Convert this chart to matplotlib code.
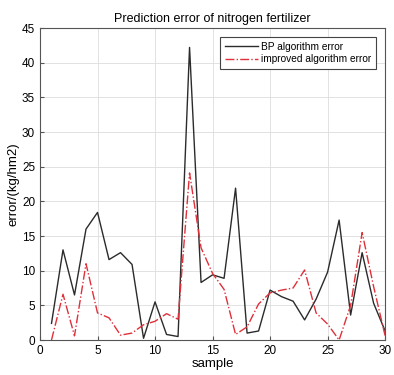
import numpy as np
import matplotlib
matplotlib.use("Agg")
import matplotlib.pyplot as plt

plt.rcParams['font.family'] = ['Liberation Sans', 'DejaVu Sans']

samples = list(range(1, 31))
bp_error = [2.4, 13.0, 6.5, 16.0, 18.4, 11.6, 12.6, 10.9, 0.25, 5.5,
            0.8, 0.5, 42.2, 8.3, 9.4, 8.9, 21.9, 1.0, 1.3, 7.2,
            6.25, 5.6, 2.9, 5.9, 9.8, 17.3, 3.6, 12.6, 5.3, 1.3]
improved_error = [0.0, 6.6, 0.6, 11.0, 3.9, 3.2, 0.7, 1.0, 2.2, 2.7,
                  3.8, 3.0, 24.1, 13.3, 9.6, 7.3, 0.8, 1.9, 5.2, 6.8,
                  7.2, 7.5, 10.1, 3.9, 2.3, 0.0, 5.0, 15.5, 7.7, 0.6]

fig = plt.figure(figsize=(3.94, 3.75), dpi=100)
ax = fig.add_axes([0.1015, 0.0933, 0.876, 0.832])

ax.plot(samples, bp_error, color='#2b2b2b', lw=1.0, label='BP algorithm error')
ax.plot(samples, improved_error, color='#e0303a', lw=1.0, ls='-.',
        label='improved algorithm error')

ax.set_xlim(0, 30)
ax.set_ylim(0, 45)
ax.set_xticks(range(0, 31, 5))
ax.set_yticks(range(0, 46, 5))
ax.tick_params(direction='in', labelsize=8.5, length=3, color='#555555')
ax.grid(True, color='#dddddd', lw=0.6)
for s in ax.spines.values():
    s.set_color('#555555')
    s.set_linewidth(0.8)

ax.set_title('Prediction error of nitrogen fertilizer', fontsize=9, pad=4)
ax.set_xlabel('sample', fontsize=9.5, labelpad=1)
ax.set_ylabel('error/(kg/hm2)', fontsize=9.5, labelpad=2)

leg = ax.legend(loc='upper right', fontsize=7.3, fancybox=False, framealpha=1,
                edgecolor='#444444', handlelength=3.3, borderpad=0.45,
                labelspacing=0.25, handletextpad=0.3, borderaxespad=0.9)
leg.get_frame().set_linewidth(0.8)

fig.savefig('out.png', dpi=100)
